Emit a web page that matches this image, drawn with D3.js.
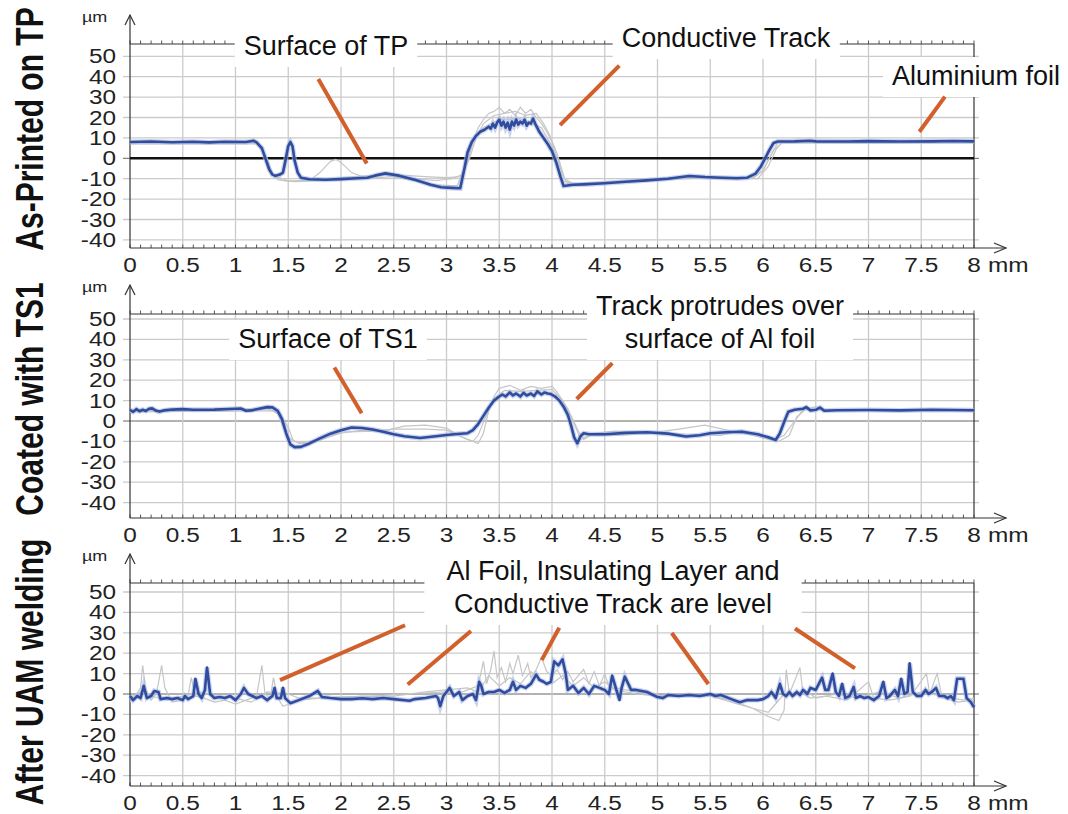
<!DOCTYPE html>
<html>
<head>
<meta charset="utf-8">
<script src="https://cdn.jsdelivr.net/npm/d3@7.9.0/dist/d3.min.js"></script>
<style>
  body { margin: 0; background: #fff; }
  svg { display: block; font-family: "Liberation Sans", Arial, sans-serif; }
</style>
</head>
<body>
<svg id="chart" width="1068" height="814"></svg>
<script>
// ---- data (x in mm, height in µm) ----
const xTickValues = d3.range(0, 8.01, 0.5);
const yTickValues = [-40, -30, -20, -10, 0, 10, 20, 30, 40, 50];
const panelTitles = ['As-Printed on TP', 'Coated with TS1', 'After UAM welding'];

// panel 1: as printed
const p1Blue = [[0,8],[0.2,8.2],[0.4,7.9],[0.6,8.1],[0.75,7.8],[0.9,8.1],[1.1,8],[1.17,8.6],[1.2,7.8],[1.25,5],[1.29,-1],[1.32,-5.5],[1.35,-8],[1.38,-8.6],[1.42,-8],[1.45,-7],[1.47,-2],[1.5,6],[1.52,8],[1.54,6],[1.56,-1],[1.59,-7],[1.62,-9.5],[1.7,-10.3],[1.85,-10.5],[2.0,-10.2],[2.15,-9.8],[2.25,-9.5],[2.32,-8.5],[2.42,-7.4],[2.55,-8.5],[2.7,-10.5],[2.85,-13],[2.95,-14.2],[3.05,-14.5],[3.13,-14.7],[3.17,-5],[3.2,3],[3.24,8],[3.28,11],[3.32,13],[3.36,14],[3.4,15.5],[3.42,14.5],[3.44,17],[3.46,15],[3.48,17.5],[3.5,19],[3.52,16],[3.54,18],[3.56,15],[3.58,17.5],[3.6,14],[3.62,18],[3.64,16],[3.66,19],[3.68,16.5],[3.7,18],[3.72,17],[3.74,19],[3.76,16],[3.78,17.5],[3.8,17],[3.82,19.5],[3.84,17],[3.88,13],[3.92,10],[3.96,7],[4.0,3.5],[4.04,-2],[4.08,-9],[4.11,-13.6],[4.2,-13],[4.3,-12.8],[4.5,-12.2],[4.7,-11.5],[4.9,-10.8],[5.1,-10],[5.3,-8.7],[5.45,-9.2],[5.6,-9.5],[5.75,-9.8],[5.85,-9.5],[5.93,-7.5],[5.98,-4],[6.02,0],[6.06,4],[6.1,7.5],[6.14,8.2],[6.3,8.3],[6.45,8.6],[6.5,8.3],[6.8,8.2],[7.0,8.4],[7.3,8.2],[7.6,8.3],[7.8,8.5],[8.0,8.3]];
const p1Grey1 = [[0,8],[1.2,8],[1.26,3],[1.32,-6],[1.4,-10.5],[1.55,-11.5],[1.7,-11],[1.8,-7],[1.9,-1.5],[1.95,-0.5],[2.0,-2],[2.1,-7],[2.2,-9],[2.5,-8],[2.8,-9],[3.0,-9.5],[3.13,-9],[3.2,-2],[3.25,8],[3.3,15],[3.35,19],[3.4,22],[3.45,23],[3.5,25],[3.55,22],[3.6,24],[3.65,21],[3.7,25],[3.75,22],[3.8,24],[3.85,20],[3.9,17],[3.95,13],[4.0,8],[4.05,0],[4.1,-8],[4.15,-12.5],[4.5,-12],[5.0,-10],[5.5,-9],[5.9,-9.5],[6.0,-6],[6.08,2],[6.14,7.5],[6.2,8],[8,8]];
const p1Grey2 = [[0,7.5],[1.2,7.5],[1.3,0],[1.36,-9],[1.45,-11],[1.6,-11.5],[1.8,-10.5],[2.2,-10],[2.5,-9],[2.9,-11],[3.05,-10],[3.15,-8],[3.22,0],[3.28,10],[3.35,17],[3.45,21],[3.55,22],[3.65,23],[3.75,21],[3.85,22],[3.92,17],[3.98,11],[4.05,2],[4.12,-10],[4.2,-12.5],[5,-10.5],[5.6,-9.5],[5.95,-10],[6.05,-4],[6.12,4],[6.18,7.8],[8,7.8]];
const p1Grey3 = [[0,7],[1.2,7],[1.28,2],[1.34,-8],[1.5,-11],[1.7,-10.8],[2.4,-8],[2.9,-13],[3.1,-13.5],[3.18,-4],[3.25,9],[3.35,15],[3.5,19],[3.7,19.5],[3.9,15],[4.0,6],[4.1,-11],[4.2,-12.5],[5.3,-9],[5.9,-10],[6.0,-6],[6.1,4],[6.18,7.5],[8,7.5]];
const p1Pointers = [[1.785,38.9,2.244,-2.5],[4.076,16.3,4.638,45.4],[7.482,13.0,7.725,30.2]];

// panel 2: coated with TS1
const p2Blue = [[0,5.4],[0.03,4.5],[0.06,5.8],[0.09,4.8],[0.12,5.5],[0.15,4.9],[0.18,6],[0.21,6.2],[0.25,5],[0.28,4.6],[0.32,5.2],[0.4,5.6],[0.5,5.8],[0.6,5.5],[0.8,5.6],[1.0,6],[1.05,6.1],[1.1,5],[1.15,5.2],[1.2,5.8],[1.3,6.8],[1.35,6.7],[1.4,5],[1.44,1],[1.48,-6],[1.52,-11.5],[1.56,-12.8],[1.62,-12.7],[1.7,-11],[1.8,-8.5],[1.9,-6.2],[2.0,-4.5],[2.1,-3.2],[2.2,-3.4],[2.3,-4.2],[2.4,-5.3],[2.5,-6.5],[2.6,-7.5],[2.75,-8.3],[2.9,-7.5],[3.0,-6.9],[3.1,-6.4],[3.2,-6],[3.25,-4.5],[3.3,-1.5],[3.35,2.5],[3.4,6.5],[3.45,10],[3.5,12],[3.53,13],[3.56,12],[3.6,14],[3.63,12.5],[3.66,13.5],[3.7,12],[3.73,13.8],[3.76,12.5],[3.8,13.5],[3.83,12.3],[3.86,14.5],[3.9,13],[3.93,14],[3.96,13.5],[3.99,13.2],[4.03,12],[4.07,10],[4.11,7],[4.15,3],[4.18,-2],[4.21,-8],[4.24,-11],[4.27,-7.5],[4.3,-6],[4.35,-6.5],[4.5,-6.5],[4.7,-5.8],[4.9,-5.5],[5.1,-6.2],[5.27,-7.6],[5.4,-7],[5.5,-6],[5.65,-5.5],[5.8,-5.3],[5.95,-6.5],[6.05,-8],[6.12,-9.3],[6.16,-6],[6.2,-0.5],[6.24,4.5],[6.3,5.5],[6.38,6],[6.41,6.8],[6.45,5.2],[6.5,5.5],[6.54,6.6],[6.58,5],[6.7,5.3],[7.0,5.4],[7.3,5.2],[7.6,5.5],[8.0,5.3]];
const p2Grey1 = [[0,5],[1.3,6],[1.4,4],[1.46,-4],[1.5,-8],[1.6,-11],[1.8,-9],[2.0,-6],[2.2,-4.5],[2.4,-5],[2.6,-2.5],[2.8,-2],[3.0,-3.5],[3.15,-8],[3.3,-11],[3.35,-6],[3.4,5],[3.45,12],[3.5,16],[3.6,17.5],[3.7,15],[3.8,17],[3.9,16],[4.0,17],[4.05,14],[4.15,6],[4.25,-5],[4.3,-9],[4.4,-6],[4.6,-5],[4.9,-6],[5.2,-4],[5.45,-2],[5.7,-5],[5.9,-7],[6.1,-9.5],[6.2,-7],[6.3,0],[6.38,5.5],[6.5,7],[6.6,5.5],[8,5]];
const p2Grey2 = [[0,4.5],[1.35,5],[1.42,3],[1.5,-3],[1.55,-10],[1.7,-11.5],[2.0,-5.5],[2.3,-5],[2.5,-4],[2.8,-4],[3.0,-4.5],[3.2,-9],[3.25,-10],[3.3,-7],[3.38,3],[3.45,11],[3.55,15],[3.7,14.5],[3.85,15],[4.0,15.5],[4.1,10],[4.2,0],[4.27,-9],[4.35,-7],[4.6,-7],[5.0,-6],[5.3,-6.5],[5.6,-7],[5.8,-4.5],[6.0,-7.5],[6.15,-10],[6.25,-7],[6.32,2],[6.4,5.5],[8,5.5]];
const p2Pointers = [[1.937,26.2,2.196,3.8],[4.234,10.8,4.572,28.4]];

// panel 3: after UAM welding
const p3Blue = [[0,-1],[0.03,-3],[0.07,-1],[0.1,-2],[0.13,4],[0.16,-2],[0.2,-1],[0.23,1.5],[0.27,1],[0.29,-2.5],[0.35,-2],[0.4,-2.5],[0.45,-2],[0.5,-3],[0.52,-1],[0.55,-2.5],[0.6,-1],[0.62,7.5],[0.65,0],[0.68,-2],[0.71,2],[0.73,13],[0.76,0],[0.8,-2],[0.85,-1.5],[0.9,-2],[0.95,-1],[1.0,-3],[1.05,0],[1.08,3],[1.12,0],[1.2,-2],[1.25,-1],[1.3,-3],[1.35,-1],[1.37,3],[1.39,-2],[1.43,-2],[1.45,3],[1.47,-2],[1.52,-4.5],[1.6,-3],[1.7,-1],[1.78,1.5],[1.82,-1.5],[1.9,-2],[2.0,-2.5],[2.1,-2.5],[2.2,-2.1],[2.3,-2.5],[2.4,-2],[2.5,-2.5],[2.65,-3.3],[2.7,-2.5],[2.8,-2],[2.9,-1],[2.92,-2],[2.94,-6],[2.97,-1],[3.0,1],[3.03,3],[3.07,-1],[3.12,1],[3.15,-3],[3.2,-1],[3.25,0],[3.28,-3],[3.31,6],[3.33,4],[3.35,0],[3.4,1],[3.45,1],[3.5,2],[3.55,0.5],[3.6,2],[3.63,6],[3.66,2],[3.7,4],[3.75,3],[3.8,5],[3.85,9.5],[3.88,7],[3.92,6],[3.95,5],[3.99,6],[4.02,16],[4.06,14],[4.1,17],[4.13,10],[4.15,2],[4.2,4],[4.25,0.5],[4.3,3],[4.35,0],[4.4,4],[4.45,3],[4.5,2],[4.54,0],[4.57,9],[4.61,2],[4.64,-3],[4.66,3],[4.69,8.5],[4.75,2],[4.8,2],[4.9,1],[5.0,-1.5],[5.05,-2],[5.1,-0.5],[5.2,-1],[5.3,-0.5],[5.4,-1],[5.5,0],[5.55,-1],[5.6,-0.5],[5.7,-2.5],[5.78,-4],[5.85,-3],[5.95,-3],[6.0,-2.5],[6.05,-1],[6.08,1],[6.12,-2],[6.16,5],[6.19,0],[6.22,-1],[6.25,1],[6.28,-1],[6.32,1],[6.35,-0.5],[6.38,2],[6.42,0],[6.45,3],[6.5,2],[6.56,8],[6.59,2],[6.62,2],[6.66,10],[6.69,1],[6.72,-1],[6.75,5],[6.78,-2],[6.82,-1],[6.86,3.5],[6.88,-2],[6.92,-1],[6.96,-2],[7.0,-1.5],[7.05,-3],[7.1,-1],[7.14,6],[7.17,-2],[7.2,-1],[7.25,2],[7.28,-1],[7.31,7.5],[7.34,0],[7.37,1],[7.39,15],[7.42,1],[7.46,-1],[7.5,-1],[7.54,2],[7.57,0],[7.6,1],[7.64,3],[7.67,-1],[7.72,-1],[7.75,-2],[7.78,-1],[7.81,-3],[7.84,7.5],[7.9,7.5],[7.93,-2],[7.97,-4],[8.0,-6.5]];
const p3Grey1 = [[0,-4],[0.05,-1],[0.1,3],[0.12,14],[0.15,2],[0.2,-3],[0.25,0],[0.3,14],[0.33,3],[0.4,-4],[0.5,-3],[0.55,-1],[0.58,8],[0.62,-1],[0.7,-2],[0.8,-4],[0.9,-3],[1.0,-5],[1.1,-3],[1.2,-1],[1.25,14],[1.28,0],[1.33,-2],[1.36,8],[1.4,-2],[1.45,-6],[1.5,-5],[1.6,-3],[1.8,-2],[2.0,-1.5],[2.3,-1],[2.6,0],[2.8,0.5],[3.0,1],[3.1,0],[3.2,2],[3.3,4],[3.35,16],[3.38,5],[3.42,12],[3.45,21],[3.48,8],[3.52,13],[3.56,6],[3.6,15],[3.63,10],[3.68,19],[3.72,9],[3.77,15],[3.8,8],[3.85,12],[3.9,18],[3.95,11],[4.0,9],[4.05,12],[4.1,7],[4.15,11],[4.2,6],[4.3,12],[4.35,5],[4.4,11],[4.45,4],[4.5,10],[4.55,2],[4.6,3],[4.8,1],[5.0,-1],[5.5,-1],[5.7,-3],[5.9,-7],[6.05,-11],[6.15,-13],[6.2,-8],[6.22,12],[6.25,0],[6.35,13],[6.38,0],[6.45,-2],[6.6,-1],[6.8,-3],[7.0,6],[7.05,-2],[7.2,-3],[7.4,-1],[7.55,10],[7.58,0],[7.65,10],[7.7,-2],[7.85,-4],[8.0,-3]];
const p3Grey2 = [[0,-2],[0.1,1],[0.2,-1],[0.35,-3],[0.5,-1],[0.65,1],[0.8,-1],[1.0,-2],[1.15,-4],[1.3,1],[1.5,0],[1.6,-2],[1.9,-2],[2.2,-1],[2.5,-1],[2.8,1],[3.0,2],[3.2,3],[3.3,1],[3.4,9],[3.5,4],[3.6,8],[3.7,5],[3.8,11],[3.9,6],[4.0,5],[4.1,9],[4.2,4],[4.3,8],[4.4,3],[4.5,6],[4.6,2],[4.8,0],[5.0,-1],[5.3,0],[5.5,-1],[5.7,-4],[5.9,-7],[6.05,-9],[6.1,-6],[6.2,0],[6.3,-1],[6.4,2],[6.5,-2],[6.7,0],[6.9,-2],[7.1,1],[7.3,-2],[7.5,1],[7.7,-1],[7.9,-3],[8.0,-2]];
const p3Pointers = [[1.422,6.8,2.607,33.7],[2.632,4.7,3.232,30.9],[3.902,16.6,4.069,32.5],[5.135,29.9,5.482,4.9],[6.303,32.1,6.872,12.6]];

// ---- layout ----
const panels = [
  { title: panelTitles[0], titleY: 129, zero: 158.3, top: 44, bottom: 248, boldZero: true,
    blue: p1Blue, greys: [p1Grey1, p1Grey2, p1Grey3], pointers: p1Pointers,
    notes: [
      { lines: ['Surface of TP'], x: 326, y: 55, pad: 9 },
      { lines: ['Conductive Track'], x: 726, y: 47, pad: 9 },
      { lines: ['Aluminium foil'], x: 976, y: 85, pad: 9 }
    ] },
  { title: panelTitles[1], titleY: 399, zero: 421, top: 314, bottom: 518, boldZero: false,
    blue: p2Blue, greys: [p2Grey1, p2Grey2], pointers: p2Pointers,
    notes: [
      { lines: ['Surface of TS1'], x: 328, y: 348, pad: 9 },
      { lines: ['Track protrudes over', 'surface of Al foil'], x: 720, y: 315, pad: 9 }
    ] },
  { title: panelTitles[2], titleY: 672, zero: 694, top: 583, bottom: 786, boldZero: false,
    blue: p3Blue, greys: [p3Grey1, p3Grey2], pointers: p3Pointers,
    notes: [
      { lines: ['Al Foil, Insulating Layer and', 'Conductive Track are level'], x: 613, y: 580, pad: 22 }
    ] }
];

const svg = d3.select('#chart');
const x = d3.scaleLinear().domain([0, 8]).range([130, 974]);
const minorTicks = d3.range(0, 80.5, 1).map(d => d / 10);
const pxPerTen = 20.4;
const labelStretch = 1.25;

panels.forEach(p => {
  const y = d3.scaleLinear()
    .domain([-40, 50])
    .range([p.zero + 4 * pxPerTen, p.zero - 5 * pxPerTen]);

  const gGrid = svg.append('g');
  const gBox = svg.append('g');
  const gData = svg.append('g');
  const gText = svg.append('g');

  // horizontal grid lines (stick out a little on both sides)
  gGrid.selectAll('line.h')
    .data(yTickValues)
    .join('line')
    .attr('x1', 123).attr('x2', 979)
    .attr('y1', d => y(d)).attr('y2', d => y(d))
    .attr('stroke', d => d === 0 ? '#666' : '#cbcbcb')
    .attr('stroke-width', d => d === 0 ? 1 : 1.3);

  // vertical grid lines
  gGrid.selectAll('line.v')
    .data(xTickValues.filter(d => d > 0 && d < 8))
    .join('line')
    .attr('x1', d => x(d)).attr('x2', d => x(d))
    .attr('y1', p.top).attr('y2', p.bottom)
    .attr('stroke', '#cbcbcb')
    .attr('stroke-width', 1.3);

  // frame: top and right
  gGrid.append('line')
    .attr('x1', x(0)).attr('x2', x(8)).attr('y1', p.top).attr('y2', p.top)
    .attr('stroke', '#333').attr('stroke-width', 1.2);
  gGrid.append('line')
    .attr('x1', x(8)).attr('x2', x(8)).attr('y1', p.top).attr('y2', p.bottom)
    .attr('stroke', '#333').attr('stroke-width', 1.2);

  // minor ticks on top frame and on x axis
  [p.top, p.bottom].forEach(ty => {
    gGrid.selectAll(null)
      .data(minorTicks)
      .join('line')
      .attr('x1', d => x(d)).attr('x2', d => x(d))
      .attr('y1', ty).attr('y2', ty - 3.5)
      .attr('stroke', '#555').attr('stroke-width', 1);
  });

  // y axis with arrow
  const tip = p.top - 29;
  gGrid.append('line')
    .attr('x1', x(0)).attr('x2', x(0)).attr('y1', tip).attr('y2', p.bottom)
    .attr('stroke', '#333').attr('stroke-width', 1.2);
  gGrid.append('path')
    .attr('d', `M${x(0) - 5},${tip + 10}L${x(0)},${tip}L${x(0) + 5},${tip + 10}`)
    .attr('fill', 'none').attr('stroke', '#333').attr('stroke-width', 1.2);

  // x axis with arrow
  gGrid.append('line')
    .attr('x1', x(0)).attr('x2', x(8) + 32).attr('y1', p.bottom).attr('y2', p.bottom)
    .attr('stroke', '#333').attr('stroke-width', 1.2);
  gGrid.append('path')
    .attr('d', `M${x(8) + 20},${p.bottom - 5}L${x(8) + 32},${p.bottom}L${x(8) + 20},${p.bottom + 5}`)
    .attr('fill', 'none').attr('stroke', '#333').attr('stroke-width', 1.2);

  // zero reference line
  if (p.boldZero) {
    gGrid.append('line')
      .attr('x1', x(0)).attr('x2', x(8)).attr('y1', y(0)).attr('y2', y(0))
      .attr('stroke', '#111').attr('stroke-width', 2.4);
  }

  // tick labels
  gText.selectAll('text.yl')
    .data(yTickValues)
    .join('text')
    .attr('transform', d => `translate(116,${y(d)}) scale(${labelStretch},1)`)
    .attr('text-anchor', 'end')
    .attr('dy', '0.36em')
    .attr('font-size', 19.5)
    .attr('fill', '#222')
    .text(d => d);

  gText.selectAll('text.xl')
    .data(xTickValues)
    .join('text')
    .attr('transform', d => `translate(${x(d)},${p.bottom + 24}) scale(${labelStretch},1)`)
    .attr('text-anchor', 'middle')
    .attr('font-size', 19.5)
    .attr('fill', '#222')
    .text(d => d);

  gText.append('text')
    .attr('transform', `translate(${x(8) + 14},${p.bottom + 24}) scale(${labelStretch},1)`)
    .attr('font-size', 19.5).attr('fill', '#222')
    .text('mm');

  gText.append('text')
    .attr('transform', `translate(82,${p.top - 22}) scale(1.2,1)`)
    .attr('font-size', 15).attr('fill', '#222')
    .text('µm');

  // annotations on white boxes
  p.notes.forEach(n => {
    const t = gText.append('text')
      .attr('text-anchor', 'middle')
      .attr('font-size', 27)
      .attr('fill', '#111');
    n.lines.forEach((line, i) => {
      t.append('tspan').attr('x', n.x).attr('y', n.y + i * 33).text(line);
    });
    const bb = t.node().getBBox();
    gBox.append('rect')
      .attr('x', bb.x - n.pad).attr('y', bb.y - 4)
      .attr('width', bb.width + 2 * n.pad).attr('height', bb.height + 10)
      .attr('fill', '#fff');
  });

  // profiles
  const line = d3.line().x(d => x(d[0])).y(d => y(d[1]));
  gData.selectAll('path.grey')
    .data(p.greys)
    .join('path')
    .attr('d', line)
    .attr('fill', 'none')
    .attr('stroke', '#c6c6c6')
    .attr('stroke-width', 1.2);

  gData.append('path')
    .attr('d', line(p.blue))
    .attr('fill', 'none')
    .attr('stroke', '#a9b8e2')
    .attr('stroke-width', 5)
    .attr('stroke-opacity', 0.6);
  gData.append('path')
    .attr('d', line(p.blue))
    .attr('fill', 'none')
    .attr('stroke', '#2f4c9e')
    .attr('stroke-width', 2.6)
    .attr('stroke-linejoin', 'round');

  // orange pointers
  gText.selectAll('line.ptr')
    .data(p.pointers)
    .join('line')
    .attr('x1', d => x(d[0])).attr('y1', d => y(d[1]))
    .attr('x2', d => x(d[2])).attr('y2', d => y(d[3]))
    .attr('stroke', '#d2602c')
    .attr('stroke-width', 4);

  // panel title (glyphs are taller than the font would give, so stretch them)
  gText.append('text')
    .attr('transform', `translate(43,${p.titleY}) rotate(-90) scale(1,1.27)`)
    .attr('text-anchor', 'middle')
    .attr('font-size', 30)
    .attr('font-weight', 'bold')
    .attr('fill', '#111')
    .text(p.title);
});
</script>
</body>
</html>
